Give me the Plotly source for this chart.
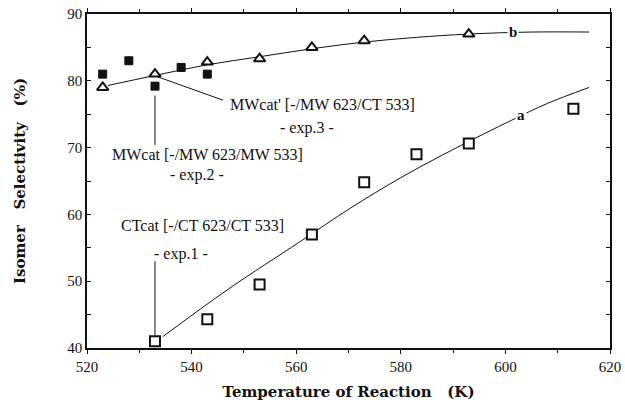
import plotly.graph_objects as go

# Experimental data
exp1_T = [533, 543, 553, 563, 573, 583, 593, 613]          # CTcat (open squares)
exp1_S = [41.0, 44.3, 49.5, 57.0, 64.8, 69.0, 70.6, 75.8]
exp2_T = [523, 528, 533, 538, 543]                          # MWcat (filled squares)
exp2_S = [81.0, 83.0, 79.2, 82.0, 81.0]
exp3_T = [523, 533, 543, 553, 563, 573, 593]                # MWcat' (open triangles)
exp3_S = [79.0, 81.0, 82.8, 83.3, 85.0, 86.0, 87.0]

# Fitted curves
curve_a_T = [534.5, 547, 560.7, 570.3, 580, 590.7, 601.2, 608, 616]
curve_a_S = [41.7, 48.8, 55.9, 60.9, 65.5, 70.0, 74.1, 76.6, 79.0]
curve_b_T = [524, 533, 543, 553, 563, 573, 583, 593, 605, 616]
curve_b_S = [79.3, 80.8, 82.4, 83.6, 84.8, 85.8, 86.5, 87.0, 87.3, 87.3]

x_ticks = [520, 540, 560, 580, 600, 620]
y_ticks = [40, 50, 60, 70, 80, 90]

FONT = "Liberation Serif"
TFONT = "DejaVu Serif"
INK = "#111111"

fig = go.Figure()
fig.add_trace(go.Scatter(x=curve_a_T, y=curve_a_S, mode="lines", line=dict(color=INK, width=1, shape="spline"),
                         showlegend=False, hoverinfo="skip"))
fig.add_trace(go.Scatter(x=curve_b_T, y=curve_b_S, mode="lines", line=dict(color=INK, width=1, shape="spline"),
                         showlegend=False, hoverinfo="skip"))
fig.add_trace(go.Scatter(x=exp1_T, y=exp1_S, mode="markers",
                         marker=dict(symbol="square", size=10, color="white", line=dict(color=INK, width=2)),
                         showlegend=False))
fig.add_trace(go.Scatter(x=exp2_T, y=exp2_S, mode="markers",
                         marker=dict(symbol="square", size=8, color=INK, line=dict(color=INK, width=1)),
                         showlegend=False))
fig.add_trace(go.Scatter(x=exp3_T, y=exp3_S, mode="markers",
                         marker=dict(symbol="triangle-up", size=10, color="white", line=dict(color=INK, width=2)),
                         showlegend=False))

# pointer lines
fig.add_shape(type="line", x0=533.5, y0=80.6, x1=546.0, y1=77.1, line=dict(color=INK, width=1))
fig.add_shape(type="line", x0=533, y0=77.8, x1=533, y1=70.4, line=dict(color=INK, width=1))
fig.add_shape(type="line", x0=533, y0=53.0, x1=533, y1=41.9, line=dict(color=INK, width=1))

ann_font = dict(family=FONT, size=16, color=INK)
anns = [
    dict(x=565.0, y=76.4, text="MWcat' [-/MW 623/CT 533]"),
    dict(x=562.1, y=73.0, text="- exp.3 -"),
    dict(x=543.0, y=68.9, text="MWcat [-/MW 623/MW 533]"),
    dict(x=541.1, y=65.9, text="- exp.2 -"),
    dict(x=542.0, y=58.3, text="CTcat [-/CT 623/CT 533]"),
    dict(x=538.0, y=54.1, text="- exp.1 -"),
]
for a in anns:
    fig.add_annotation(x=a["x"], y=a["y"], text=a["text"], showarrow=False, font=ann_font)
fig.add_annotation(x=603, y=74.9, text="<b>a</b>", showarrow=False, bgcolor="white",
                   font=dict(family=FONT, size=15, color=INK))
fig.add_annotation(x=601.5, y=87.3, text="<b>b</b>", showarrow=False, bgcolor="white",
                   font=dict(family=FONT, size=15, color=INK))

axis_common = dict(showline=True, linecolor=INK, linewidth=1.5, mirror="ticks", showgrid=False, zeroline=False,
                   tickfont=dict(family=FONT, size=15, color=INK), ticklen=4, tickwidth=1, tickcolor=INK,
                   automargin=False)
fig.update_xaxes(range=[520, 620], tickvals=x_ticks, ticks="outside",
                 minor=dict(dtick=10, ticks="outside", ticklen=3, tickcolor=INK),
                 title=dict(text="<b>Temperature of Reaction&nbsp;&nbsp;&nbsp;(K)</b>",
                            font=dict(family=TFONT, size=15, color=INK), standoff=13),
                 **axis_common)
fig.update_yaxes(range=[40, 90], tickvals=y_ticks, ticks="inside",
                 minor=dict(dtick=5, ticks="inside", ticklen=4, tickcolor=INK),
                 title=dict(text="<b>Isomer&nbsp;&nbsp;&nbsp;Selectivity&nbsp;&nbsp;&nbsp;(%)</b>",
                            font=dict(family=TFONT, size=15, color=INK), standoff=38),
                 **axis_common)
fig.update_layout(width=625, height=410, margin=dict(l=87, r=15, t=14, b=62),
                  plot_bgcolor="white", paper_bgcolor="white")
fig.write_html("out.html", config={"displayModeBar": False},
               post_script="document.body.style.margin='0';document.body.style.overflow='hidden';")
